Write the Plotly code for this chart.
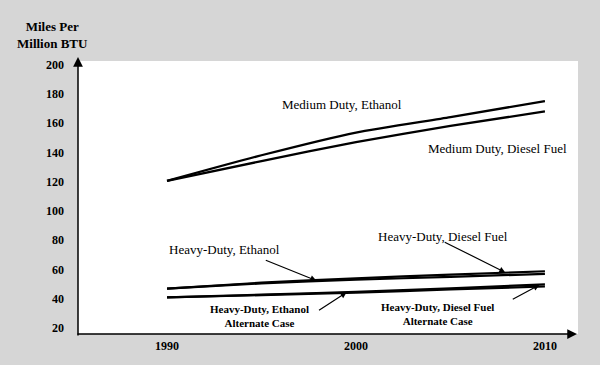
import plotly.graph_objects as go

years = [1990, 1995, 2000, 2005, 2010]
medium_ethanol = [120.5, 138, 153.5, 164, 175]
medium_diesel = [120.5, 134, 147, 158, 168]
heavy_diesel = [47, 51, 54, 56.5, 58.8]
heavy_ethanol = [47, 50.5, 53, 55, 57]
heavy_diesel_alt = [41, 42.8, 44.8, 47.2, 49.8]
heavy_ethanol_alt = [41, 42.5, 44.2, 46.4, 48.4]

y_ticks = [20, 40, 60, 80, 100, 120, 140, 160, 180, 200]
x_ticks = [1990, 2000, 2010]

SERIF = "Liberation Serif, Times New Roman, serif"

fig = go.Figure()
series = [
    (medium_ethanol, 2.3), (medium_diesel, 2.3),
    (heavy_diesel, 2.2), (heavy_ethanol, 2.2),
    (heavy_diesel_alt, 2.2), (heavy_ethanol_alt, 2.2),
]
for vals, w in series:
    fig.add_trace(go.Scatter(x=years, y=vals, mode="lines",
                             line=dict(color="black", width=w, shape="spline", smoothing=0.6),
                             showlegend=False, hoverinfo="skip"))

annotations = []
def label(text, x, y, size=13, bold=False):
    annotations.append(dict(text=f"<b>{text}</b>" if bold else text, xref="paper", yref="paper",
                            x=(x - 78) / 500, y=(337 - y) / 276, showarrow=False,
                            font=dict(family=SERIF, size=size, color="black"),
                            xanchor="center", yanchor="middle"))

label("Medium Duty, Ethanol", 342, 105)
label("Medium Duty, Diesel Fuel", 497, 149)
label("Heavy-Duty, Ethanol", 224, 252)
label("Heavy-Duty, Diesel Fuel", 443, 238)
label("Heavy-Duty, Ethanol<br>Alternate Case", 259, 319, size=11, bold=True)
label("Heavy-Duty, Diesel Fuel<br>Alternate Case", 437, 317, size=11, bold=True)

def pointer(x, y, ax, ay):
    annotations.append(dict(text="", x=x, y=y, xref="x", yref="y", ax=ax, ay=ay,
                            showarrow=True, arrowhead=2, arrowsize=1, arrowwidth=1.2,
                            arrowcolor="black", standoff=0, startstandoff=0))

pointer(1997.9, 52.4, -52, -21)
pointer(2007.9, 58.0, -62, -31)
pointer(1999.5, 44.4, -29, 19)
pointer(2009.7, 49.4, -28, 15)

annotations.append(dict(text="", xref="paper", yref="paper", x=0, y=(337 - 57) / 276,
                        ax=0, ay=280, axref="pixel", ayref="pixel", showarrow=True,
                        arrowhead=2, arrowsize=1.3, arrowwidth=1.5, arrowcolor="black"))
annotations.append(dict(text="", xref="paper", yref="paper", x=(577 - 78) / 500, y=0,
                        ax=-501, ay=0, axref="pixel", ayref="pixel", showarrow=True,
                        arrowhead=2, arrowsize=1.3, arrowwidth=1.5, arrowcolor="black"))

annotations.append(dict(text="<b>Miles Per<br>Million BTU</b>", xref="paper", yref="paper",
                        x=(52 - 78) / 500, y=(337 - 35) / 276, showarrow=False,
                        font=dict(family=SERIF, size=13, color="black"),
                        xanchor="center", yanchor="middle"))

fig.update_layout(
    width=600, height=365,
    margin=dict(l=78, r=22, t=61, b=28),
    paper_bgcolor="#d6d6d6",
    plot_bgcolor="white",
    annotations=annotations,
    xaxis=dict(range=[1985.29, 2011.75], tickvals=x_ticks, ticktext=[str(v) for v in x_ticks],
               showgrid=False, zeroline=False, showline=False, ticks="",
               ticklabelstandoff=3,
               tickfont=dict(family=SERIF, size=12, color="black", weight="bold")),
    yaxis=dict(range=[15.95, 202.36], tickvals=y_ticks, ticktext=[str(v) for v in y_ticks],
               showgrid=False, zeroline=False, showline=False, ticks="",
               ticklabelstandoff=13,
               tickfont=dict(family=SERIF, size=12, color="black", weight="bold")),
)

fig.write_html("out.html", config={"displayModeBar": False},
               post_script="document.body.style.margin='0';document.body.style.padding='0';")
